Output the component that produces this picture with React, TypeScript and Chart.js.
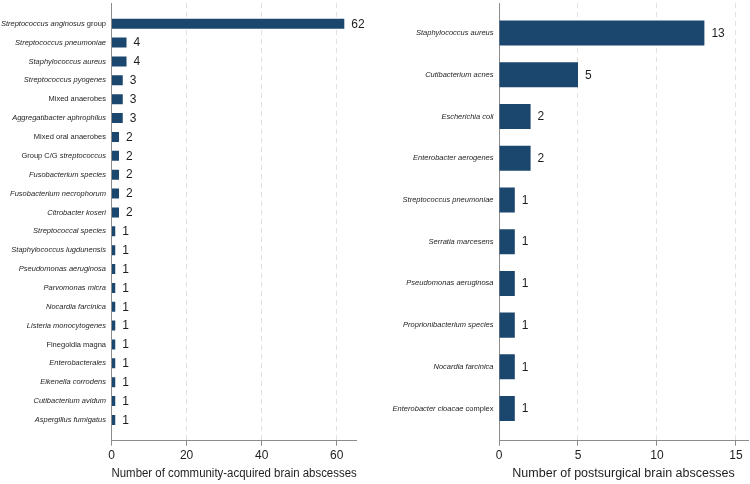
import { useEffect, useRef } from "react";
import { Chart, registerables } from "chart.js";

Chart.register(...registerables);

const FONT = '"Liberation Sans", Arial, Helvetica, sans-serif';
const BAR_COLOR = "#1b466e";
const AXIS_COLOR = "#8c8c8c";
const TEXT_COLOR = "#1e1e1e";

// Organism names; *...* marks the italic part of a name
const communityLabels = [
  "*Streptococcus anginosus* group",
  "*Streptococcus pneumoniae*",
  "*Staphylococcus aureus*",
  "*Streptococcus pyogenes*",
  "Mixed anaerobes",
  "*Aggregatibacter aphrophilus*",
  "Mixed oral anaerobes",
  "Group C/G *streptococcus*",
  "*Fusobacterium species*",
  "*Fusobacterium necrophorum*",
  "*Citrobacter koseri*",
  "*Streptococcal species*",
  "*Staphylococcus lugdunensis*",
  "*Pseudomonas aeruginosa*",
  "*Parvomonas micra*",
  "*Nocardia farcinica*",
  "*Listeria monocytogenes*",
  "Finegoldia magna",
  "*Enterobacterales*",
  "*Eikenella corrodens*",
  "*Cutibacterium avidum*",
  "*Aspergillus fumigatus*",
];
const communityCounts = [62, 4, 4, 3, 3, 3, 2, 2, 2, 2, 2, 1, 1, 1, 1, 1, 1, 1, 1, 1, 1, 1];
const communityTicks = [0, 20, 40, 60];

const postsurgicalLabels = [
  "*Staphylococcus aureus*",
  "*Cutibacterium acnes*",
  "*Escherichia coli*",
  "*Enterobacter aerogenes*",
  "*Streptococcus pneumoniae*",
  "*Serratia marcesens*",
  "*Pseudomonas aeruginosa*",
  "*Proprionibacterium species*",
  "*Nocardia farcinica*",
  "*Enterobacter cloacae* complex",
];
const postsurgicalCounts = [13, 5, 2, 2, 1, 1, 1, 1, 1, 1];
const postsurgicalTicks = [0, 5, 10, 15];

function splitItalic(label: string) {
  const parts: { text: string; italic: boolean }[] = [];
  label.split("*").forEach((text, i) => {
    if (text) parts.push({ text, italic: i % 2 === 1 });
  });
  return parts;
}

// Draws the organism names beside the axis and the count next to each bar
const annotatePlugin = {
  id: "annotate",
  afterDatasetsDraw(chart: any) {
    const { ctx, chartArea } = chart;
    const meta = chart.getDatasetMeta(0);
    const points = chart.data.datasets[0].data as { x: number; y: number }[];
    const names = chart.data.labels as string[];
    const yScale = chart.scales.y;
    ctx.save();
    ctx.fillStyle = TEXT_COLOR;
    ctx.textBaseline = "middle";
    ctx.textAlign = "left";

    ctx.font = `12px ${FONT}`;
    meta.data.forEach((bar: any, i: number) => {
      ctx.fillText(String(points[i].x), bar.x + 7, bar.y + 0.5);
    });

    names.forEach((name, i) => {
      const y = yScale.getPixelForValue(i);
      const parts = splitItalic(name);
      let x = chartArea.left - 5.5;
      for (let k = parts.length - 1; k >= 0; k--) {
        ctx.font = `${parts[k].italic ? "italic " : ""}7.5px ${FONT}`;
        x -= ctx.measureText(parts[k].text).width;
        ctx.fillText(parts[k].text, x, y);
      }
    });
    ctx.restore();
  },
};

type PanelSpec = {
  labels: string[];
  counts: number[];
  ticks: number[];
  xMax: number;
  yMin: number;
  yMax: number;
  barPct: number;
  axisWidth: number;
  padRight: number;
  title: string;
};

function buildConfig(p: PanelSpec): any {
  return {
    type: "bar",
    data: {
      labels: p.labels,
      datasets: [
        {
          data: p.counts.map((v, i) => ({ x: v, y: i })),
          backgroundColor: BAR_COLOR,
          borderWidth: 0,
          barPercentage: p.barPct,
          categoryPercentage: 1,
        },
      ],
    },
    options: {
      indexAxis: "y",
      responsive: false,
      animation: false,
      devicePixelRatio: 1,
      layout: { padding: { top: 3, right: p.padRight, left: 0, bottom: 0 } },
      plugins: { legend: { display: false }, tooltip: { enabled: false } },
      scales: {
        x: {
          type: "linear",
          min: 0,
          max: p.xMax,
          offset: false,
          afterBuildTicks: (s: any) => {
            s.ticks = p.ticks.map((v) => ({ value: v }));
          },
          afterFit: (s: any) => {
            s.height = 43.3;
          },
          grid: {
            offset: false,
            color: (c: any) => (c.tick && c.tick.value === 0 ? "rgba(0,0,0,0)" : "#e2e2e2"),
            lineWidth: 1,
            tickLength: 5,
            tickColor: AXIS_COLOR,
            tickWidth: 1,
            tickBorderDash: [],
          },
          border: { display: true, color: AXIS_COLOR, width: 1, dash: [5, 4] },
          ticks: {
            font: { family: FONT, size: 12 },
            color: TEXT_COLOR,
            padding: 3,
            maxRotation: 0,
            autoSkip: false,
          },
          title: {
            display: true,
            text: p.title,
            font: { family: FONT, size: 12.5 },
            color: TEXT_COLOR,
            padding: { top: 0, bottom: 2.5 },
          },
        },
        y: {
          type: "linear",
          reverse: true,
          min: p.yMin,
          max: p.yMax,
          offset: false,
          bounds: "data",
          grace: 0,
          // one (hidden) tick per organism row
          afterBuildTicks: (s: any) => {
            s.ticks = p.labels.map((_, i) => ({ value: i }));
          },
          afterFit: (s: any) => {
            s.width = p.axisWidth;
          },
          ticks: { display: false },
          grid: { display: false, offset: false },
          border: { display: true, color: AXIS_COLOR, width: 1 },
        },
      },
    },
    plugins: [annotatePlugin],
  };
}

function Panel({ spec, left }: { spec: PanelSpec; left: number }) {
  const ref = useRef<HTMLCanvasElement>(null);
  useEffect(() => {
    if (!ref.current) return;
    const chart = new Chart(ref.current, buildConfig(spec));
    return () => chart.destroy();
  }, [spec]);
  return (
    <canvas
      ref={ref}
      width={375}
      height={484}
      style={{ position: "absolute", left, top: 0, width: 375, height: 484 }}
    />
  );
}

const communitySpec: PanelSpec = {
  labels: communityLabels,
  counts: communityCounts,
  ticks: communityTicks,
  xMax: 65.3,
  yMin: -1.1,
  yMax: 22.1,
  barPct: 0.53,
  axisWidth: 111.5,
  padRight: 18.3,
  title: "Number of community-acquired brain abscesses",
};

const postsurgicalSpec: PanelSpec = {
  labels: postsurgicalLabels,
  counts: postsurgicalCounts,
  ticks: postsurgicalTicks,
  xMax: 15.76,
  yMin: -0.72,
  yMax: 9.77,
  barPct: 0.6,
  axisWidth: 124,
  padRight: 2,
  title: "Number of postsurgical brain abscesses",
};

export default function App() {
  return (
    <div
      style={{
        position: "absolute",
        left: 0,
        top: 0,
        width: 750,
        height: 484,
        background: "#ffffff",
        overflow: "hidden",
      }}
    >
      <Panel spec={communitySpec} left={0} />
      <Panel spec={postsurgicalSpec} left={375} />
    </div>
  );
}
